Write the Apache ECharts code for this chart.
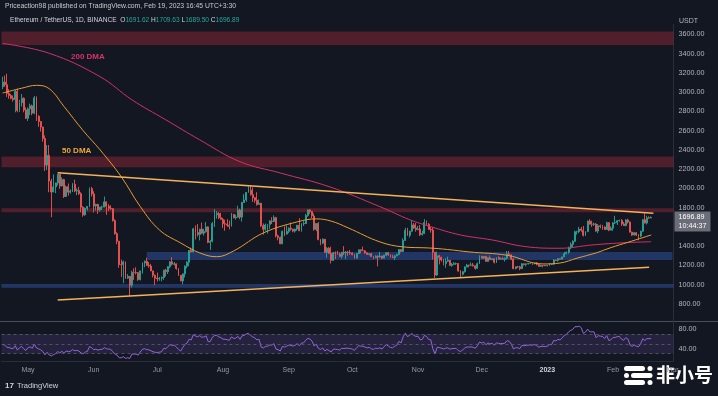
<!DOCTYPE html>
<html><head><meta charset="utf-8">
<script src="https://cdn.jsdelivr.net/npm/echarts@6/dist/echarts.min.js"></script>
<style>html,body{margin:0;padding:0;background:#131722;overflow:hidden}#c{width:718px;height:396px}</style>
</head><body><div id="c"></div>
<script>
// ---- data (ETH/USDT daily) ----
const startDate = '2022-04-19';
const padDays = 10;
const firstOpen = 3055;
// closes before the visible window (2022-03-01 .. 2022-04-18), used only for RSI warm-up
const warmupCloses = [2970,2950,2835,2620,2665,2555,2495,2575,2725,2605,2555,2565,2515,2590,2620,2770,2815,2945,2950,2860,2900,2970,3030,3110,3110,3140,3300,3330,3400,3385,3280,
  3450,3445,3520,3520,3410,3170,3230,3190,3260,3210,2980,3030,3120,3020,3040,3065,2990,3055];
const closes = [
  3103,3077,2986,2964,2936,2922,3008,2808,2889,2936,2815,2727,
  2826,2857,2781,2940,2748,2694,2636,2518,2243,2342,2076,1962,2015,2056,2146,2025,2091,1915,2018,1960,1974,2044,1972,1978,1945,1805,1725,1792,1812,1997,1942,
  1817,1834,1776,1805,1806,1860,1813,1793,1789,1665,1529,1451,1208,1207,1236,1068,1087,995,1128,1127,1124,1052,1143,1225,1243,1200,1193,1143,1098,1067,
  1060,1067,1074,1150,1134,1187,1237,1213,1216,1168,1097,1039,1112,1192,1233,1355,1339,1580,1542,1521,1577,1535,1551,1600,1439,1450,1635,1725,1738,1695,1678,
  1632,1630,1618,1606,1730,1694,1700,1775,1702,1853,1880,1958,1982,1935,1903,1876,1833,1846,1612,1575,1620,1625,1661,1657,1696,1507,1490,1425,1555,1525,1553,
  1586,1577,1556,1577,1617,1561,1630,1635,1717,1776,1761,1713,1574,1636,1470,1431,1472,1335,1378,1325,1252,1330,1328,1317,1294,1336,1329,1337,1335,1328,
  1311,1276,1323,1362,1352,1351,1331,1313,1321,1291,1279,1295,1288,1297,1275,1306,1331,1310,1287,1282,1300,1314,1364,1344,1459,1566,1513,1555,1620,1589,1572,
  1578,1519,1531,1645,1628,1572,1568,1335,1100,1300,1285,1256,1220,1242,1253,1200,1212,1218,1219,1141,1108,1135,1184,1203,1202,1205,1195,1170,1218,1295,
  1275,1294,1241,1280,1259,1270,1232,1281,1265,1269,1264,1275,1319,1309,1265,1166,1186,1185,1166,1216,1210,1216,1219,1220,1219,1226,1211,1190,1200,1199,1196,
  1200,1215,1213,1256,1251,1269,1264,1288,1321,1336,1384,1418,1450,1550,1550,1578,1565,1512,1551,1660,1628,1627,1629,1556,1611,1603,1599,1572,1644,1566,1586,
  1641,1644,1664,1667,1631,1614,1672,1651,1546,1515,1540,1515,1505,1555,1675,1640,1694,1691.62,1696.89];
const highs = [
  3160,3170,3190,3030,2980,2965,3025,3035,2920,2980,2945,2840,
  2840,2880,2870,2960,2955,2760,2700,2640,2550,2450,2450,2100,2145,2060,2150,2150,2115,2100,2030,2050,1990,2055,2090,2000,2015,1960,1815,1800,1815,2010,2015,
  1970,1840,1836,1805,1820,1915,1865,1838,1825,1795,1680,1545,1455,1260,1250,1240,1110,1090,1145,1170,1180,1130,1140,1230,1250,1280,1235,1215,1145,1105,
  1125,1080,1085,1155,1165,1190,1245,1285,1235,1220,1170,1100,1115,1200,1245,1360,1385,1590,1615,1630,1580,1645,1580,1650,1605,1465,1650,1785,1765,1755,1745,
  1695,1675,1680,1665,1745,1735,1725,1820,1790,1860,1940,1960,2020,2030,2010,1910,1960,1885,1850,1635,1635,1630,1670,1700,1720,1705,1520,1500,1560,1605,1615,
  1595,1645,1580,1580,1620,1690,1640,1660,1735,1780,1785,1765,1740,1640,1650,1475,1480,1475,1390,1390,1395,1340,1345,1350,1335,1340,1400,1350,1350,1360,
  1335,1320,1330,1365,1365,1395,1360,1335,1325,1330,1295,1305,1305,1340,1300,1310,1335,1340,1315,1310,1305,1320,1370,1370,1480,1590,1590,1560,1665,1640,1640,
  1610,1620,1560,1680,1665,1640,1600,1595,1340,1345,1310,1290,1265,1275,1290,1255,1225,1235,1230,1225,1150,1140,1190,1215,1205,1230,1225,1200,1230,1305,
  1300,1295,1300,1285,1305,1275,1275,1285,1295,1280,1285,1280,1350,1350,1315,1275,1190,1195,1195,1225,1220,1220,1225,1225,1225,1230,1235,1215,1205,1202,1205,
  1205,1225,1220,1265,1260,1275,1272,1290,1340,1345,1395,1440,1460,1560,1560,1600,1600,1610,1555,1665,1680,1665,1645,1640,1630,1625,1620,1605,1655,1650,1605,
  1650,1715,1670,1675,1680,1650,1680,1685,1655,1550,1545,1545,1525,1560,1680,1740,1715,1710,1709.63];
const lows = [
  3030,3055,2950,2930,2925,2900,2790,2790,2795,2850,2790,2720,
  2700,2760,2760,2770,2700,2640,2590,2485,2180,2190,1960,1700,1960,1950,2030,1995,2020,1900,1910,1925,1945,1962,1960,1930,1930,1750,1705,1715,1770,1805,1915,
  1750,1770,1735,1758,1775,1802,1725,1765,1775,1655,1520,1420,1175,1080,1015,1060,1060,880,970,1050,1105,1040,1045,1115,1180,1195,1175,1140,1075,995,
  1033,1040,1035,1050,1085,1110,1170,1200,1200,1155,1090,1035,1005,1075,1170,1190,1335,1335,1470,1500,1460,1525,1510,1540,1430,1360,1440,1600,1685,1680,1675,
  1590,1560,1600,1575,1605,1690,1675,1700,1680,1655,1850,1860,1955,1925,1860,1850,1820,1830,1600,1520,1560,1530,1580,1630,1650,1490,1460,1420,1420,1505,1520,
  1535,1560,1545,1540,1560,1555,1550,1610,1630,1705,1735,1690,1560,1555,1460,1410,1420,1330,1280,1320,1220,1245,1265,1310,1285,1270,1310,1265,1300,1310,
  1305,1270,1270,1320,1325,1350,1320,1310,1305,1290,1265,1275,1190,1280,1265,1275,1295,1300,1280,1275,1255,1295,1305,1335,1340,1455,1505,1490,1550,1580,1550,
  1565,1505,1510,1525,1620,1570,1540,1260,1070,1090,1210,1240,1200,1175,1235,1195,1185,1205,1205,1135,1075,1095,1125,1180,1180,1195,1190,1155,1165,1215,
  1270,1265,1240,1240,1255,1255,1220,1225,1260,1260,1260,1240,1260,1300,1255,1160,1160,1175,1150,1165,1200,1190,1210,1215,1205,1210,1200,1185,1185,1180,1192,
  1190,1195,1205,1210,1245,1240,1260,1260,1285,1315,1320,1370,1385,1445,1520,1535,1550,1500,1505,1545,1625,1600,1610,1550,1535,1585,1570,1570,1570,1555,1565,
  1560,1630,1620,1655,1610,1610,1605,1635,1540,1505,1510,1505,1460,1495,1550,1635,1625,1685,1689.50];
const dma200Dates = ['2022-04-19','2022-05-11','2022-06-04','2022-06-19','2022-07-05','2022-07-21','2022-08-09','2022-08-28','2022-09-20','2022-10-14','2022-10-28','2022-11-07','2022-11-21','2022-12-06','2022-12-22','2023-01-07','2023-01-22','2023-02-07','2023-02-19'];
const dma200Values = [3505,3403,3160,2920,2712,2504,2277,2160,2018,1810,1675,1602,1516,1464,1394,1378,1412,1436,1446];
const dma50Dates = ['2022-04-19','2022-04-28','2022-05-05','2022-05-11','2022-05-18','2022-05-27','2022-06-04','2022-06-14','2022-06-23','2022-07-02','2022-07-12','2022-07-21','2022-07-29','2022-08-06','2022-08-20','2022-09-05','2022-09-14','2022-09-21','2022-09-29','2022-10-14','2022-10-25','2022-11-06','2022-11-15','2022-11-25','2022-12-13','2022-12-30','2023-01-07','2023-01-15','2023-01-24','2023-01-31','2023-02-08','2023-02-19'];
const dma50Values = [2990,3040,3070,3035,2850,2600,2400,2120,1810,1568,1433,1330,1290,1350,1537,1652,1683,1660,1590,1444,1392,1381,1365,1340,1305,1215,1225,1275,1330,1385,1440,1516];
const trendUpperDates = ['2022-05-15','2023-02-20'];
const trendUpperValues = [2163,1741];
const trendLowerDates = ['2022-05-15','2023-02-18'];
const trendLowerValues = [841,1180];
const redBands = [[3630,3490],[2330,2220],[1793,1752]];
const blueBands = [[1340,1256],[1008,968]];
const blueBandStarts = ['2022-06-26', null];
const priceTicks = [800,1000,1200,1400,1800,2000,2200,2400,2600,2800,3000,3200,3400,3600];
const rsiTicks = [40,80];
const rsiLevels = [30,50,70];
const monthNames = ['Jan','Feb','Mar','Apr','May','Jun','Jul','Aug','Sep','Oct','Nov','Dec'];
const lastPrice = 1696.89, lastTime = '10:44:37';

// ---- build ----
const dates = [];
const d0 = new Date(startDate + 'T00:00:00Z').getTime();
for (let i = 0; i < closes.length + padDays; i++) dates.push(new Date(d0 + i * 86400000).toISOString().slice(0, 10));
const candle = closes.map((c, i) => [i === 0 ? firstOpen : closes[i - 1], c, lows[i], highs[i]]);

// RSI(14), Wilder smoothing
const allC = warmupCloses.concat(closes);
let ag = 0, al = 0; const rsiAll = [];
for (let i = 1; i < allC.length; i++) {
  const d = allC[i] - allC[i - 1], g = Math.max(d, 0), l = Math.max(-d, 0);
  if (i <= 14) { ag += g / 14; al += l / 14; } else { ag = (ag * 13 + g) / 14; al = (al * 13 + l) / 14; }
  rsiAll[i] = i >= 14 ? (al === 0 ? 100 : 100 - 100 / (1 + ag / al)) : null;
}
const rsi = rsiAll.slice(allC.length - closes.length);

const FONT = 'Liberation Sans, Arial, sans-serif';
const lastDate = dates[dates.length - 1];
const RED = 'rgba(242,54,69,0.28)', BLUE = 'rgba(60,105,210,0.38)';
const bandAreas = [];
redBands.forEach(b => bandAreas.push([{ yAxis: b[0], itemStyle: { color: RED } }, { yAxis: b[1] }]));
blueBands.forEach((b, k) => bandAreas.push(blueBandStarts[k]
  ? [{ xAxis: blueBandStarts[k], yAxis: b[0], itemStyle: { color: BLUE } }, { xAxis: lastDate, yAxis: b[1] }]
  : [{ yAxis: b[0], itemStyle: { color: BLUE } }, { yAxis: b[1] }]));

const trendStyle = { color: '#f4b25a', width: 1.5, type: 'solid' };
const chart = echarts.init(document.getElementById('c'), null, { renderer: 'canvas' });
chart.setOption({
  backgroundColor: '#131722',
  animation: false,
  textStyle: { fontFamily: FONT },
  grid: [
    { left: 1.5, right: 44.5, top: 24.67, height: 298.5 },
    { left: 1.5, right: 44.5, top: 321.5, height: 40.2 }
  ],
  xAxis: [
    { type: 'category', gridIndex: 0, data: dates, axisLine: { show: false }, axisTick: { show: false }, axisLabel: { show: false }, splitLine: { show: false } },
    { type: 'category', gridIndex: 1, data: dates, axisLine: { show: true, lineStyle: { color: '#2a2e39' } }, axisTick: { show: false }, splitLine: { show: false },
      axisLabel: { interval: (i, v) => v.slice(8) === '01', color: '#9598a1', fontSize: 7, margin: 5, fontFamily: FONT,
        formatter: v => { const m = +v.slice(5, 7); return m === 1 ? '{y|' + v.slice(0, 4) + '}' : monthNames[m - 1]; },
        rich: { y: { color: '#d1d4dc', fontWeight: 'bold', fontSize: 7, fontFamily: FONT } } } }
  ],
  yAxis: [
    { type: 'value', gridIndex: 0, position: 'right', min: 600, max: 3700, interval: 200, scale: true,
      axisLine: { show: true, lineStyle: { color: '#2a2e39' } }, axisTick: { show: false }, splitLine: { show: false },
      axisLabel: { color: '#b2b5be', fontSize: 7.2, margin: 5, fontFamily: FONT, formatter: v => priceTicks.indexOf(v) >= 0 ? v.toFixed(2) : '' } },
    { type: 'value', gridIndex: 1, position: 'right', min: 13, max: 96,
      axisLine: { show: true, lineStyle: { color: '#2a2e39' } }, axisTick: { show: false }, splitLine: { show: false },
      axisLabel: { color: '#b2b5be', fontSize: 7.2, margin: 5, fontFamily: FONT, customValues: rsiTicks, formatter: v => v.toFixed(2) } }
  ],
  series: [
    { type: 'candlestick', xAxisIndex: 0, yAxisIndex: 0, data: candle, barWidth: 1.4,
      itemStyle: { color: '#26a69a', color0: '#ef5350', borderColor: '#26a69a', borderColor0: '#ef5350', borderWidth: 0.9 },
      markArea: { silent: true, data: bandAreas },
      markLine: { silent: true, symbol: 'none', animation: false,
        data: [
          [{ coord: [trendUpperDates[0], trendUpperValues[0]], lineStyle: trendStyle, label: { show: false } }, { coord: [trendUpperDates[1], trendUpperValues[1]] }],
          [{ coord: [trendLowerDates[0], trendLowerValues[0]], lineStyle: trendStyle, label: { show: false } }, { coord: [trendLowerDates[1], trendLowerValues[1]] }]
        ] } },
    { type: 'line', name: '200 DMA', xAxisIndex: 0, yAxisIndex: 0, data: dma200Dates.map((d, i) => [d, dma200Values[i]]),
      smooth: 0.4, showSymbol: false, lineStyle: { color: '#d2306a', width: 1 }, z: 3 },
    { type: 'line', name: '50 DMA', xAxisIndex: 0, yAxisIndex: 0, data: dma50Dates.map((d, i) => [d, dma50Values[i]]),
      smooth: 0.4, showSymbol: false, lineStyle: { color: '#e89c32', width: 1 }, z: 3,
      markLine: { silent: true, symbol: 'none', animation: false,
        data: [{ yAxis: lastPrice, lineStyle: { color: 'rgba(0,0,0,0)', width: 0 },
          label: { show: true, position: 'end', distance: 1, offset: [0, 4], formatter: lastPrice.toFixed(2) + '\n' + lastTime, color: '#ffffff',
            backgroundColor: '#6b6e79', padding: [1.5, 4, 1.5, 4], fontSize: 7.2, lineHeight: 8.5, fontFamily: FONT } }] } },
    { type: 'line', name: 'RSI', xAxisIndex: 1, yAxisIndex: 1, data: rsi, showSymbol: false, lineStyle: { color: '#9466d8', width: 1 },
      markArea: { silent: true, itemStyle: { color: 'rgba(126,87,194,0.17)' }, data: [[{ yAxis: rsiLevels[0] }, { yAxis: rsiLevels[2] }]] },
      markLine: { silent: true, symbol: 'none', label: { show: false }, lineStyle: { color: '#5d606b', type: [3, 3], width: 0.8 },
        data: rsiLevels.map(v => ({ yAxis: v })) } }
  ],
  graphic: [
    { type: 'line', shape: { x1: 0, y1: 321.5, x2: 718, y2: 321.5 }, style: { stroke: '#4a4e5a', lineWidth: 1 }, silent: true },
    { type: 'text', left: 5, top: 3, style: { text: 'Priceaction98 published on TradingView.com, Feb 19, 2023 16:45 UTC+3:30', fill: '#c8cad0', font: '6.8px ' + FONT } },
    { type: 'text', left: 10, top: 17, style: { text: '{a|Ethereum / TetherUS, 1D, BINANCE  }{o|O}{v|1691.62 }{o|H}{v|1709.63 }{o|L}{v|1689.50 }{o|C}{v|1696.89}',
        font: '6.6px ' + FONT, rich: { a: { fill: '#d1d4dc', font: '6.6px ' + FONT }, o: { fill: '#d1d4dc', font: '6.6px ' + FONT }, v: { fill: '#26a69a', font: '6.6px ' + FONT } } } },
    { type: 'text', left: 679, top: 18, style: { text: 'USDT', fill: '#b2b5be', font: '7px ' + FONT } },
    { type: 'text', left: 71, top: 53, style: { text: '200 DMA', fill: '#d8336a', font: 'bold 8px ' + FONT } },
    { type: 'text', left: 62, top: 147, style: { text: '50 DMA', fill: '#f0a836', font: 'bold 8px ' + FONT } },
    { type: 'text', left: 5, top: 382, style: { text: '17', fill: '#d1d4dc', font: 'bold 8px ' + FONT } },
    { type: 'text', left: 17, top: 382, style: { text: 'TradingView', fill: '#d1d4dc', font: '7.5px ' + FONT } },
    { type: 'rect', shape: { x: 624, y: 366, width: 21, height: 5, r: 2.5 }, style: { fill: '#ffffff' } },
    { type: 'rect', shape: { x: 647.5, y: 366, width: 5, height: 5, r: 2.5 }, style: { fill: '#ffffff' } },
    { type: 'rect', shape: { x: 624, y: 373, width: 5, height: 5, r: 2.5 }, style: { fill: '#ffffff' } },
    { type: 'rect', shape: { x: 631, y: 373, width: 21.5, height: 5, r: 2.5 }, style: { fill: '#ffffff' } },
    { type: 'rect', shape: { x: 624, y: 380, width: 21, height: 5, r: 2.5 }, style: { fill: '#ffffff' } },
    { type: 'rect', shape: { x: 647.5, y: 380, width: 5, height: 5, r: 2.5 }, style: { fill: '#ffffff' } },
    { type: 'text', left: 656, top: 365, style: { text: '非小号', fill: '#ffffff', font: 'bold 19px "Noto Sans CJK SC", sans-serif' } }
  ]
});
</script></body></html>
